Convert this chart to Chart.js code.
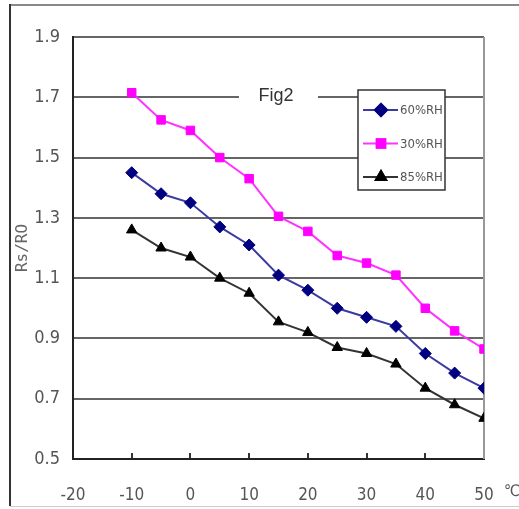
<!DOCTYPE html>
<html>
<head>
<meta charset="utf-8">
<script src="https://cdn.jsdelivr.net/npm/chart.js@4"></script>
<style>
  html, body { margin: 0; padding: 0; background: #fff; }
  canvas { display: block; }
</style>
</head>
<body>
<canvas id="fig2" width="519" height="509"></canvas>
<script>
// temperature (°C) and Rs/R0 readings per humidity level
var temps = [-10, -5, 0, 5, 10, 15, 20, 25, 30, 35, 40, 45, 50];
var rh60 = [1.45, 1.38, 1.35, 1.27, 1.21, 1.11, 1.06, 1.0, 0.97, 0.94, 0.85, 0.785, 0.735];
var rh30 = [1.715, 1.625, 1.59, 1.5, 1.43, 1.305, 1.255, 1.175, 1.15, 1.11, 1.0, 0.925, 0.865];
var rh85 = [1.26, 1.2, 1.17, 1.1, 1.05, 0.955, 0.92, 0.87, 0.85, 0.815, 0.735, 0.68, 0.635];
var seriesNames = ['60%RH', '30%RH', '85%RH'];
var xTicks = [-20, -10, 0, 10, 20, 30, 40, 50];
var yTicks = [0.5, 0.7, 0.9, 1.1, 1.3, 1.5, 1.7, 1.9];

var tickFont = "'DejaVu Sans Condensed', 'DejaVu Serif Condensed', serif";

function points(values) {
    return values.map(function (v, i) {
        return { x: temps[i], y: v };
    });
}

function series(label, values, line, marker, style, radius) {
    return {
        label: label,
        data: points(values),
        borderColor: line,
        backgroundColor: marker,
        pointBorderColor: marker,
        pointBackgroundColor: marker,
        pointStyle: style,
        pointRadius: radius,
        pointBorderWidth: 1,
        borderWidth: 2,
        tension: 0
    };
}

// frame, plot edge, inline title, legend box and unit label
var decorations = {
    id: 'decorations',
    beforeDraw: function (chart) {
        var ctx = chart.ctx;
        ctx.save();
        ctx.fillStyle = '#fff';
        ctx.fillRect(0, 0, chart.width, chart.height);
        ctx.strokeStyle = '#888';
        ctx.lineWidth = 2;
        ctx.beginPath();
        ctx.moveTo(10, 5);
        ctx.lineTo(chart.width, 5);
        ctx.stroke();
        ctx.strokeStyle = '#333';
        ctx.beginPath();
        ctx.moveTo(10, 4);
        ctx.lineTo(10, 506);
        ctx.stroke();
        ctx.strokeStyle = '#ccc';
        ctx.lineWidth = 1;
        ctx.beginPath();
        ctx.moveTo(10, 506.5);
        ctx.lineTo(chart.width, 506.5);
        ctx.stroke();
        ctx.restore();
    },
    beforeDatasetsDraw: function (chart) {
        var ctx = chart.ctx;
        var a = chart.chartArea;
        ctx.save();
        ctx.strokeStyle = '#999';
        ctx.lineWidth = 2;
        ctx.beginPath();
        ctx.moveTo(a.right, a.top);
        ctx.lineTo(a.right, a.bottom);
        ctx.stroke();

        // "Fig2" sits on the 1.7 grid line
        var yFig = chart.scales.y.getPixelForValue(1.7);
        ctx.fillStyle = '#fff';
        ctx.fillRect(239, yFig - 6, 79, 12);
        ctx.fillStyle = '#333';
        ctx.font = "18px 'Liberation Sans', Arial, sans-serif";
        ctx.textAlign = 'center';
        ctx.textBaseline = 'middle';
        ctx.fillText('Fig2', 276, yFig - 1);
        ctx.restore();
    },
    afterDraw: function (chart) {
        var ctx = chart.ctx;
        ctx.save();
        var bx = 358, by = 90, bw = 87, bh = 100;
        ctx.fillStyle = '#fff';
        ctx.fillRect(bx, by, bw, bh);
        ctx.strokeStyle = '#333';
        ctx.lineWidth = 1.5;
        ctx.strokeRect(bx, by, bw, bh);
        ctx.font = "13px " + tickFont;
        ctx.textBaseline = 'middle';
        ctx.textAlign = 'left';
        chart.data.datasets.forEach(function (ds, i) {
            var y = by + 20 + i * 33.5;
            ctx.strokeStyle = ds.borderColor;
            ctx.lineWidth = 2;
            ctx.beginPath();
            ctx.moveTo(bx + 5, y);
            ctx.lineTo(bx + 40, y);
            ctx.stroke();
            Chart.helpers.drawPoint(ctx, {
                pointStyle: ds.pointStyle,
                radius: ds.pointRadius,
                borderWidth: 1,
                rotation: 0
            }, bx + 23, y);
            ctx.fillStyle = ds.pointBackgroundColor;
            ctx.strokeStyle = ds.pointBorderColor;
            ctx.fill();
            ctx.stroke();
            ctx.fillStyle = '#555';
            ctx.fillText(ds.label, bx + 42, y + 1);
        });

        ctx.fillStyle = '#555';
        ctx.font = "16px " + tickFont;
        ctx.textAlign = 'left';
        ctx.fillText('\u2103', 504, 492);
        ctx.restore();
    }
};

new Chart(document.getElementById('fig2'), {
    type: 'line',
    data: {
        datasets: [
            series(seriesNames[0], rh60, '#3a3aa0', '#000080', 'rectRot', 6),
            series(seriesNames[1], rh30, '#ff33ff', '#ff00ff', 'rect', 6),
            series(seriesNames[2], rh85, '#333333', '#000000', 'triangle', 6)
        ]
    },
    plugins: [decorations],
    options: {
        responsive: false,
        animation: false,
        layout: {
            padding: { top: 37, right: 35, left: 0, bottom: 0 }
        },
        plugins: {
            legend: { display: false },
            tooltip: { enabled: false }
        },
        scales: {
            x: {
                type: 'linear',
                min: -20,
                max: 50,
                afterBuildTicks: function (scale) {
                    scale.ticks = xTicks.map(function (v) { return { value: v }; });
                },
                afterFit: function (scale) {
                    scale.height = 50;
                    scale.paddingLeft = 0;
                    scale.paddingRight = 0;
                },
                ticks: {
                    color: '#555',
                    padding: 32,
                    font: { family: tickFont, size: 17 }
                },
                grid: {
                    drawOnChartArea: false,
                    drawTicks: true,
                    tickLength: -6,
                    color: '#333',
                    lineWidth: 2
                },
                border: { color: '#222', width: 2 }
            },
            y: {
                min: 0.5,
                max: 1.9,
                afterBuildTicks: function (scale) {
                    scale.ticks = yTicks.map(function (v) { return { value: v }; });
                },
                afterFit: function (scale) {
                    scale.width = 73;
                    scale.paddingTop = 0;
                    scale.paddingBottom = 0;
                },
                ticks: {
                    color: '#555',
                    padding: 13,
                    font: { family: tickFont, size: 18 },
                    callback: function (v) { return v.toFixed(1); }
                },
                grid: {
                    drawTicks: false,
                    color: '#666',
                    lineWidth: 2
                },
                border: { color: '#222', width: 2 },
                title: {
                    display: true,
                    text: 'Rs/RO',
                    color: '#666',
                    padding: { top: 13, bottom: 0 },
                    font: { family: "'DejaVu Sans Mono', monospace", size: 16 }
                }
            }
        }
    }
});
</script>
</body>
</html>
